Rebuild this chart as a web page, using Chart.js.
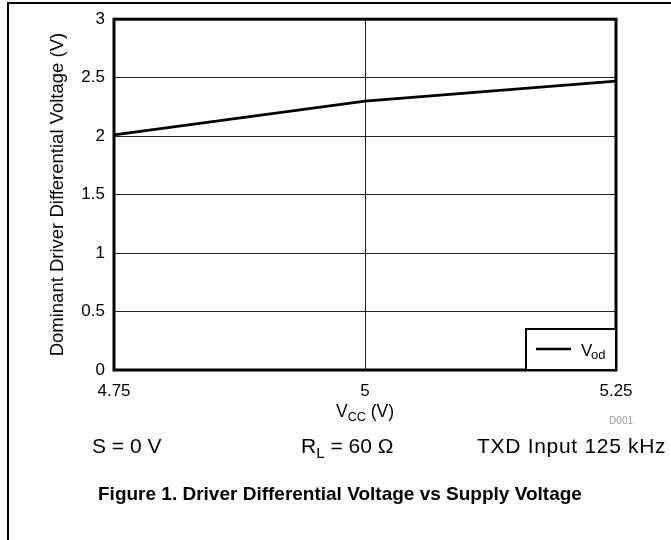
<!DOCTYPE html>
<html>
<head>
<meta charset="utf-8">
<title>Driver Differential Voltage vs Supply Voltage</title>
<script src="https://cdn.jsdelivr.net/npm/chart.js@4.4.1/dist/chart.umd.min.js"></script>
<style>
  body { margin: 0; background: #fff; }
  #page {
    position: relative;
    width: 671px;
    height: 540px;
    overflow: hidden;
    font-family: "Liberation Sans", Arial, Helvetica, sans-serif;
    color: #000;
  }
  #frame {
    position: absolute;
    left: 7px;
    top: 2px;
    width: 700px;
    height: 600px;
    border-left: 2px solid #000;
    border-top: 2px solid #000;
  }
  #lineChart { position: absolute; left: 0; top: 0; }
  .txt {
    position: absolute;
    white-space: nowrap;
    line-height: 1;
  }
  .txt sub {
    font-size: 0.72em;
    vertical-align: -0.32em;
    line-height: 0;
  }
  #xTitle { left: 265px; width: 200px; text-align: center; top: 403px; font-size: 17.5px; }
  #code { left: 583px; width: 50px; text-align: right; top: 416px; font-size: 10px; color: #999; }
  #cond1 { left: 92px; top: 435px; font-size: 21px; }
  #cond2 { left: 301px; top: 435px; font-size: 21px; }
  #cond3 { left: 477px; top: 435px; font-size: 21px; letter-spacing: 0.7px; }
  #caption { left: 98px; top: 484px; font-size: 19px; font-weight: bold; }
</style>
</head>
<body>
<div id="page">
  <div id="frame"></div>
  <canvas id="lineChart" width="671" height="540"></canvas>
  <div class="txt" id="xTitle">V<sub>CC</sub> (V)</div>
  <div class="txt" id="code">D001</div>
  <div class="txt" id="cond1">S = 0 V</div>
  <div class="txt" id="cond2">R<sub>L</sub> = 60 Ω</div>
  <div class="txt" id="cond3">TXD Input 125 kHz</div>
  <div class="txt" id="caption">Figure 1. Driver Differential Voltage vs Supply Voltage</div>
</div>
<script>
// valores
const supplyVoltage = [4.75, 5, 5.25];
const vodValues = [2.01, 2.30, 2.47];
const xTickValues = [4.75, 5, 5.25];
const yTickValues = [0, 0.5, 1, 1.5, 2, 2.5, 3];

const fontFamily = '"Liberation Sans", Arial, Helvetica, sans-serif';

// marco grueso alrededor del area del grafico
const plotFrame = {
  id: 'plotFrame',
  afterDatasetsDraw(chart) {
    const a = chart.chartArea;
    const ctx = chart.ctx;
    ctx.save();
    ctx.strokeStyle = '#000';
    ctx.lineWidth = 3;
    ctx.strokeRect(a.left, a.top, a.right - a.left, a.bottom - a.top);
    ctx.restore();
  }
};

// leyenda con subindice (V_od) en la esquina inferior derecha
const vodLegend = {
  id: 'vodLegend',
  afterDraw(chart) {
    const a = chart.chartArea;
    const ctx = chart.ctx;
    const boxW = 90, boxH = 41;
    ctx.save();
    ctx.fillStyle = '#fff';
    ctx.fillRect(a.right - boxW, a.bottom - boxH, boxW, boxH);
    ctx.strokeStyle = '#000';
    ctx.lineWidth = 2;
    ctx.strokeRect(a.right - boxW, a.bottom - boxH, boxW, boxH);
    ctx.lineWidth = 2.5;
    ctx.beginPath();
    ctx.moveTo(a.right - 80, a.bottom - 21);
    ctx.lineTo(a.right - 45, a.bottom - 21);
    ctx.stroke();
    ctx.fillStyle = '#000';
    ctx.textBaseline = 'alphabetic';
    ctx.font = '17px ' + fontFamily;
    ctx.fillText('V', a.right - 35, a.bottom - 14);
    ctx.font = '13px ' + fontFamily;
    ctx.fillText('od', a.right - 25, a.bottom - 11);
    ctx.restore();
  }
};

const ctx = document.getElementById('lineChart').getContext('2d');
const vodChart = new Chart(ctx, {
  type: 'line',
  data: {
    datasets: [{
      label: 'Vod',
      data: supplyVoltage.map((v, i) => ({ x: v, y: vodValues[i] })),
      borderColor: '#000',
      borderWidth: 2.7,
      pointRadius: 0,
      tension: 0,
      fill: false
    }]
  },
  options: {
    responsive: false,
    animation: false,
    layout: { padding: { left: 8, top: 15, right: 55, bottom: 136 } },
    plugins: {
      legend: { display: false },
      tooltip: { enabled: false }
    },
    scales: {
      x: {
        type: 'linear',
        min: 4.75,
        max: 5.25,
        afterBuildTicks: scale => { scale.ticks = xTickValues.map(v => ({ value: v })); },
        afterFit: scale => { scale.height = 34; },
        ticks: {
          autoSkip: false,
          maxRotation: 0,
          padding: 11,
          color: '#000',
          font: { family: fontFamily, size: 17 },
          callback: v => String(v)
        },
        grid: { color: '#222', lineWidth: 1, drawTicks: false },
        border: { display: false }
      },
      y: {
        type: 'linear',
        min: 0,
        max: 3,
        afterBuildTicks: scale => { scale.ticks = yTickValues.map(v => ({ value: v })); },
        afterFit: scale => { scale.width = 106; },
        ticks: {
          autoSkip: false,
          padding: 9,
          color: '#000',
          font: { family: fontFamily, size: 17 },
          callback: v => String(v)
        },
        grid: { color: '#222', lineWidth: 1, drawTicks: false },
        border: { display: false },
        title: {
          display: true,
          text: 'Dominant Driver Differential Voltage (V)',
          color: '#000',
          font: { family: fontFamily, size: 18.5 },
          padding: { top: 39, bottom: 0 }
        }
      }
    }
  },
  plugins: [plotFrame, vodLegend]
});
</script>
</body>
</html>
